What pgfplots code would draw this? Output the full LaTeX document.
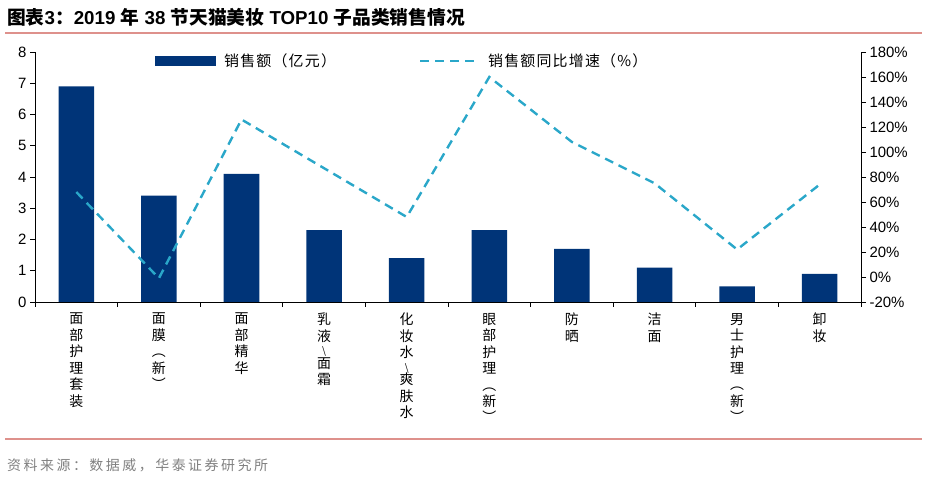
\documentclass[border=0pt]{standalone}
\usepackage{fontspec}
\setmainfont{Liberation Sans}
\newfontfamily\cjk{Noto Sans CJK SC}
\newfontfamily\cjksrc[LetterSpace=18]{Noto Sans CJK SC}
\newfontfamily\cjkleg[LetterSpace=8]{Noto Sans CJK SC}
\usepackage{pgfplots}
\usepackage{pgfplotstable}
\pgfplotsset{compat=1.18}

\definecolor{barc}{HTML}{003478}
\definecolor{linec}{HTML}{2AA7C9}
\definecolor{rulec}{HTML}{DE918C}
\definecolor{srcc}{HTML}{808080}

% short slash inside stacked labels
\newcommand{\vsl}{\\[-3bp]{\fontsize{10}{10}\selectfont\textbackslash}\\[-3bp]}

\pgfplotstableread{
x sales growth
0 6.9 68
1 3.4 -1
2 4.1 126
3 2.3 87
4 1.4 48
5 2.3 160
6 1.7 108
7 1.1 75
8 0.5 22
9 0.9 74
}\data

\begin{document}
\begin{tikzpicture}[x=1bp,y=1bp]
\path (0,0) rectangle (940,480);

% title and rules
\node[anchor=base west, inner sep=0pt, font=\fontsize{18.8}{20}\selectfont\bfseries]
  at (7,455) {{\cjk 图表}3{\cjk ：}2019 {\cjk 年} 38 {\cjk 节天猫美妆} TOP10 {\cjk 子品类销售情况}};
\draw[rulec, line width=1.6bp] (5,447) -- (922,447);
\draw[rulec, line width=1.4bp] (5,41) -- (922,41);
\node[anchor=west, inner sep=0pt, text=srcc, font=\cjksrc\fontsize{14}{16}\selectfont]
  at (7,15) {资料来源：数据威，华泰证券研究所};

% bars, left axis
\begin{axis}[
  at={(35bp,178bp)}, anchor=south west,
  scale only axis, width=826bp, height=250bp,
  xmin=-0.5, xmax=9.5, ymin=0, ymax=8,
  axis x line*=bottom, axis y line*=left,
  axis line style={line width=0.9bp},
  tick align=outside, major tick length=5bp, minor tick length=5bp,
  every tick/.style={black, line width=0.9bp},
  ytick={0,1,...,8},
  xtick={0,...,9},
  major x tick style={draw=none},
  minor xtick={-0.5,0.5,...,9.5},
  xticklabels={{面\\部\\护\\理\\套\\装},{面\\膜\\︵\\新\\︶},{面\\部\\精\\华},{乳\\液\vsl 面\\霜},{化\\妆\\水\vsl 爽\\肤\\水},{眼\\部\\护\\理\\︵\\新\\︶},{防\\晒},{洁\\面},{男\\士\\护\\理\\︵\\新\\︶},{卸\\妆}},
  xticklabel style={align=center, anchor=north, inner sep=0pt, yshift=-6bp,
    font=\cjk\fontsize{14}{16.5}\selectfont},
  yticklabel style={font=\fontsize{15}{17}\selectfont},
  /pgf/number format/assume math mode=true,
]
\addplot[ybar, bar width=0.43, fill=barc, draw=none] table[x=x, y=sales] {\data};
\end{axis}

% growth line, right axis
\begin{axis}[
  at={(35bp,178bp)}, anchor=south west,
  scale only axis, width=826bp, height=250bp,
  xmin=-0.5, xmax=9.5, ymin=-20, ymax=180,
  axis x line=none, axis y line*=right,
  axis line style={line width=0.9bp},
  tick align=outside, major tick length=5bp,
  every tick/.style={black, line width=0.9bp},
  ytick={-20,0,...,180},
  yticklabel={\pgfmathprintnumber{\tick}\%},
  yticklabel style={font=\fontsize{15}{17}\selectfont},
  /pgf/number format/assume math mode=true,
]
\addplot[linec, line width=2.4bp, dash pattern=on 9bp off 6bp, mark=none]
  table[x=x, y=growth] {\data};
\end{axis}

% legend
\fill[barc] (155,414) rectangle (216,424);
\node[anchor=west, inner sep=0pt, font=\cjkleg\fontsize{15}{17}\selectfont] at (224,419) {销售额（亿元）};
\draw[linec, line width=2.4bp, dash pattern=on 9bp off 6bp] (420,419) -- (480,419);
\node[anchor=west, inner sep=0pt, font=\cjkleg\fontsize{15}{17}\selectfont] at (488,419) {销售额同比增速（\%）};
\end{tikzpicture}
\end{document}
